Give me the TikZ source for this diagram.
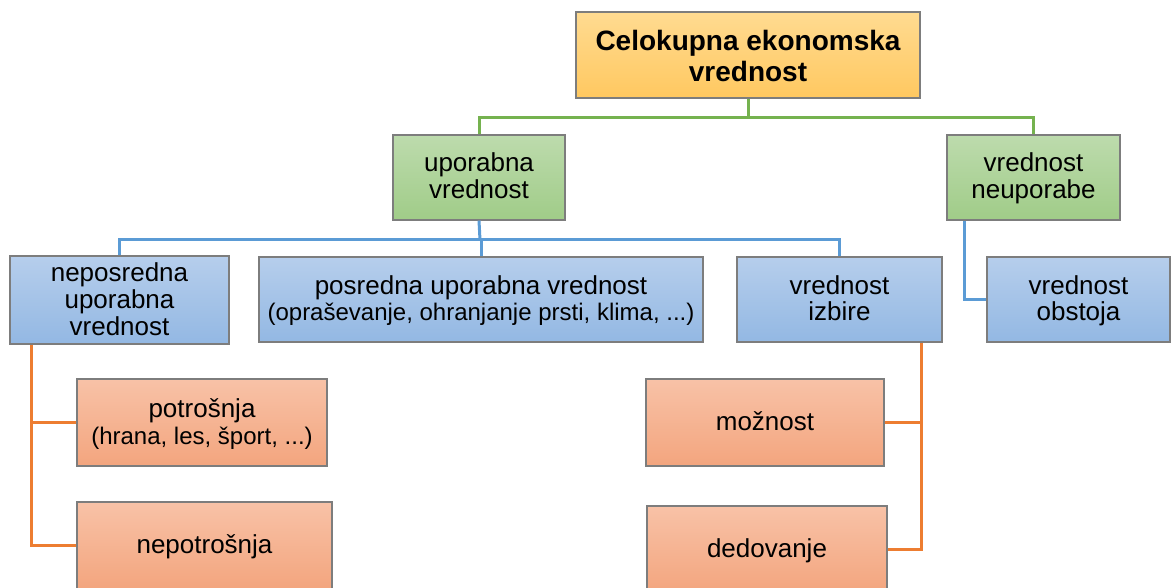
\documentclass[tikz,border=0pt]{standalone}
\usepackage{fontspec}
\setmainfont{Liberation Sans}
\usetikzlibrary{calc}

% box fills: light top fading to a deeper bottom
\definecolor{yelTop}{RGB}{255,219,145}
\definecolor{yelBot}{RGB}{255,200,96}
\definecolor{grnTop}{RGB}{189,219,173}
\definecolor{grnBot}{RGB}{160,204,136}
\definecolor{bluTop}{RGB}{182,206,236}
\definecolor{bluBot}{RGB}{147,184,227}
\definecolor{orgTop}{RGB}{248,194,167}
\definecolor{orgBot}{RGB}{243,165,126}
\definecolor{boxLine}{RGB}{125,125,125}
% connector colours
\definecolor{grnLine}{RGB}{117,178,79}
\definecolor{bluLine}{RGB}{91,155,213}
\definecolor{orgLine}{RGB}{237,125,49}

\newcommand{\mainsize}{\fontsize{26}{27}\selectfont}
\newcommand{\subsize}{\fontsize{24}{27}\selectfont}
% line struts so that every text block is centred by its line boxes
\newcommand{\ls}{\rule[-5.5pt]{0pt}{27pt}}
\newcommand{\ts}{\rule[-3pt]{0pt}{28pt}}

\tikzset{
  box/.style={rectangle, draw=boxLine, line width=1.1pt, inner sep=0pt,
              align=center, font=\mainsize},
  yelbox/.style={box, top color=yelTop, bottom color=yelBot,
                 font=\bfseries\fontsize{28}{28}\selectfont},
  grnbox/.style={box, top color=grnTop, bottom color=grnBot},
  blubox/.style={box, top color=bluTop, bottom color=bluBot},
  orgbox/.style={box, top color=orgTop, bottom color=orgBot},
  gl/.style={draw=grnLine, line width=3pt},
  bl/.style={draw=bluLine, line width=3pt},
  ol/.style={draw=orgLine, line width=3pt},
}

\begin{document}
\begin{tikzpicture}[x=1pt, y=-1pt]
  \useasboundingbox (0,0) rectangle (1171,588);
  \clip (0,0) rectangle (1171,588);

  % top level
  \node[yelbox, minimum width=344pt, minimum height=86pt] (tev) at (748,55)
    {\ts Celokupna ekonomska\\\ts vrednost};

  % second level
  \node[grnbox, minimum width=172pt, minimum height=85pt] (uv) at (479,177.5)
    {\ls uporabna\\\ls vrednost};
  \node[grnbox, minimum width=173pt, minimum height=85pt] (vn) at (1033.5,177.5)
    {\ls vrednost\\\ls neuporabe};

  % third level
  \node[blubox, minimum width=219pt, minimum height=88pt] (nuv) at (119.5,300)
    {\ls neposredna\\\ls uporabna\\\ls vrednost};
  \node[blubox, minimum width=444pt, minimum height=85pt] (puv) at (481,299.5)
    {\ls posredna uporabna vrednost\\{\subsize\ls(opraševanje, ohranjanje prsti, klima, ...)}};
  \node[blubox, minimum width=205pt, minimum height=85pt] (vi) at (839.5,299.5)
    {\ls vrednost\\\ls izbire};
  \node[blubox, minimum width=183pt, minimum height=85pt] (vo) at (1078.5,299.5)
    {\ls vrednost\\\ls obstoja};

  % fourth level
  \node[orgbox, minimum width=250pt, minimum height=87pt] (pot) at (202,422.5)
    {\ls potrošnja\\{\subsize\ls(hrana, les, šport, ...)}};
  \node[orgbox, minimum width=255pt, minimum height=87pt] (nep) at (204.5,545.5)
    {\ls nepotrošnja};
  \node[orgbox, minimum width=238pt, minimum height=87pt] (moz) at (765,422.5)
    {\ls možnost};
  \node[orgbox, minimum width=240pt, minimum height=87pt] (ded) at (767,549.5)
    {\ls dedovanje};

  % green connectors
  \coordinate (gj) at (748,118);
  \draw[gl] (tev.south) -- (gj);
  \draw[gl] (uv.north) |- (gj) -| (vn.north);

  % blue connectors
  \coordinate (bj) at (480,240);
  \draw[bl] (uv.south) -- (bj);
  \draw[bl] (nuv.north) |- (bj) -| (vi.north);
  \draw[bl] (puv.north) -- (puv.north |- bj);
  \draw[bl] ([xshift=18pt]vn.south west) |- (vo.west);

  % orange connectors
  \draw[ol] ([xshift=22pt]nuv.south west) |- (pot.west);
  \draw[ol] ([xshift=22pt]nuv.south west) |- (nep.west);
  \draw[ol] ([xshift=-21pt]vi.south east) |- (moz.east);
  \draw[ol] ([xshift=-21pt]vi.south east) |- (ded.east);
\end{tikzpicture}
\end{document}
